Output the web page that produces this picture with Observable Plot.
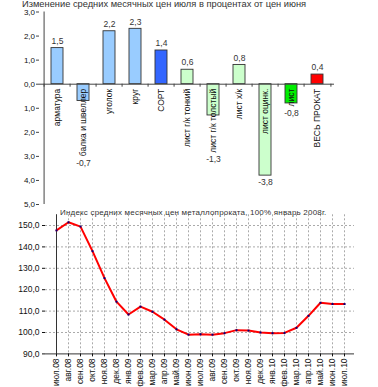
<!DOCTYPE html>
<html><head><meta charset="utf-8">
<script src="https://cdn.jsdelivr.net/npm/d3@7"></script>
<script src="https://cdn.jsdelivr.net/npm/@observablehq/plot@0.6"></script>
<style>
body{margin:0;background:#fff;font-family:"Liberation Sans",Arial,sans-serif;}
#wrap{position:relative;width:378px;height:387px;overflow:hidden;background:#fff;}
#wrap svg{display:block;}
.title{position:absolute;white-space:nowrap;color:#333;line-height:1;}
</style></head><body>
<div id="wrap">
<div id="c1"></div><div id="c2"></div>
<div class="title" id="t1" style="left:22px;top:0px;font-size:9.3px"></div>
<div class="title" id="t2" style="left:60px;top:209px;font-size:8px;letter-spacing:0.2px"></div>
</div>
<script>
// ---- data: upper chart ----
const title1 = "Изменение средних месячных цен июля в процентах от цен июня";
const categories = ["арматура","балка и швеллер","уголок","круг","СОРТ","лист г/к тонкий","лист г/к толстый","лист х/к","лист оцинк.","лист","ВЕСЬ ПРОКАТ"];
const changes = [1.5,-0.7,2.2,2.3,1.4,0.6,-1.3,0.8,-3.8,-0.8,0.4];
const groups = ["сорт","сорт","сорт","сорт","сорт итого","лист","лист","лист","лист","лист итого","итого"];
const groupNames = ["сорт","сорт итого","лист","лист итого","итого"];
const yTicksTop = [-5,-4,-3,-2,-1,0,1,2,3];

// ---- data: lower chart ----
const title2 = "Индекс средних месячных цен металлопроката, 100% январь 2008г.";
const months = ["июл.08","авг.08","сен.08","окт.08","ноя.08","дек.08","янв.09","фев.09","мар.09","апр.09","май.09","июн.09","июл.09","авг.09","сен.09","окт.09","ноя.09","дек.09","янв.10","фев.10","мар.10","апр.10","май.10","июн.10","июл.10"];
const index = [147.7,151.5,149.5,138.0,125.4,114.4,108.4,112.1,109.7,106.0,101.5,99.0,99.2,99.0,99.7,101.1,100.9,100.0,99.7,99.8,102.2,107.8,113.9,113.3,113.3];
const yTicksBottom = [90,100,110,120,130,140,150];

document.getElementById("t1").textContent = title1;
document.getElementById("t2").textContent = title2;

const fmt = v => Math.abs(v).toFixed(1).replace(".", ",");
const fmtSigned = v => v.toFixed(1).replace(".", ",");
const FONT = '"Liberation Sans", Arial, sans-serif';

// ---- upper chart ----
const W = 378, H1 = 210, mt1 = 11.5, mb1 = 6, ml1 = 39, mr1 = 44;
const yMin = -5, yMax = 3;
const pxPerUnit = (H1 - mt1 - mb1) / (yMax - yMin);
const step = (W - ml1 - mr1) / categories.length;
const rows = categories.map((c, i) => ({cat: c, value: changes[i], group: groups[i]}));
const ctx = document.createElement("canvas").getContext("2d");
ctx.font = "8.5px " + FONT;
function negLabelY(d) {
  const endPx = Math.max(-d.value * pxPerUnit, 4.5 + ctx.measureText(d.cat).width) + 7;
  return -endPx / pxPerUnit;
}

const upperChart = Plot.plot({
  width: W, height: H1, marginTop: mt1, marginBottom: mb1, marginLeft: ml1, marginRight: mr1,
  style: {fontFamily: FONT, fontSize: "8.5px", background: "transparent", color: "#111"},
  x: {domain: categories, paddingInner: 0.55, paddingOuter: 0.275, axis: null},
  y: {domain: [yMin, yMax], axis: null},
  color: {domain: groupNames, range: ["#99CCFF", "#3366FF", "#CCFFCC", "#00EE00", "#FF0000"]},
  marks: [
    Plot.barY(rows, {x: "cat", y: "value", fill: "group", stroke: "#333", strokeWidth: 0.9}),
    Plot.ruleY([0], {stroke: "#444"}),
    Plot.ruleX(categories, {x: d => d, y1: 0, y2: -3 / pxPerUnit, dx: -step / 2, stroke: "#444"}),
    Plot.ruleX([categories[categories.length - 1]], {x: d => d, y1: 0, y2: -3 / pxPerUnit, dx: step / 2, stroke: "#444"}),
    Plot.ruleX([categories[0]], {x: d => d, y1: yMin, y2: yMax, dx: -step / 2, stroke: "#444"}),
    Plot.axisY(yTicksTop, {tickFormat: fmt, tickSize: 3, tickPadding: 1.5, fontSize: 8, stroke: "#444", label: null}),
    Plot.text(rows, {x: "cat", y: 0, text: "cat", rotate: -90, textAnchor: "end", lineAnchor: "middle", dy: 4.5, fill: "#111"}),
    Plot.text(rows.filter(d => d.value >= 0), {x: "cat", y: "value", text: d => fmtSigned(d.value), dy: -7, lineAnchor: "middle", fill: "#333"}),
    Plot.text(rows.filter(d => d.value < 0), {x: "cat", y: negLabelY, text: d => fmtSigned(d.value), lineAnchor: "middle", fill: "#333"})
  ]
});
document.getElementById("c1").appendChild(upperChart);

// ---- lower chart ----
const H2 = 177;
const lrows = months.map((m, i) => ({month: m, value: index[i]}));
const lowerChart = Plot.plot({
  width: W, height: H2, marginTop: 4.3, marginBottom: 33.6, marginLeft: 45, marginRight: 24,
  style: {fontFamily: FONT, fontSize: "8.5px", background: "transparent", color: "#111"},
  x: {type: "point", domain: months, axis: null},
  y: {domain: [90, 155], axis: null},
  marks: [
    Plot.ruleX(months, {stroke: "#aaa", strokeDasharray: "2,2"}),
    Plot.ruleY(yTicksBottom.filter(v => v > 90), {stroke: "#aaa", strokeDasharray: "2,2"}),
    Plot.ruleX([months[0]], {stroke: "#333"}),
    Plot.ruleY([90], {stroke: "#333"}),
    Plot.axisX({tickRotate: -90, tickSize: 3, tickPadding: 1.5, fontSize: 8.5, label: null}),
    Plot.axisY(yTicksBottom, {tickFormat: fmt, tickSize: 3, tickPadding: 3, fontSize: 8.5, label: null}),
    Plot.line(lrows, {x: "month", y: "value", stroke: "#FF0000", strokeWidth: 2}),
    Plot.dot(lrows, {x: "month", y: "value", symbol: "square", r: 1.1, fill: "#000080"})
  ]
});
document.getElementById("c2").appendChild(lowerChart);
</script>
</body></html>
